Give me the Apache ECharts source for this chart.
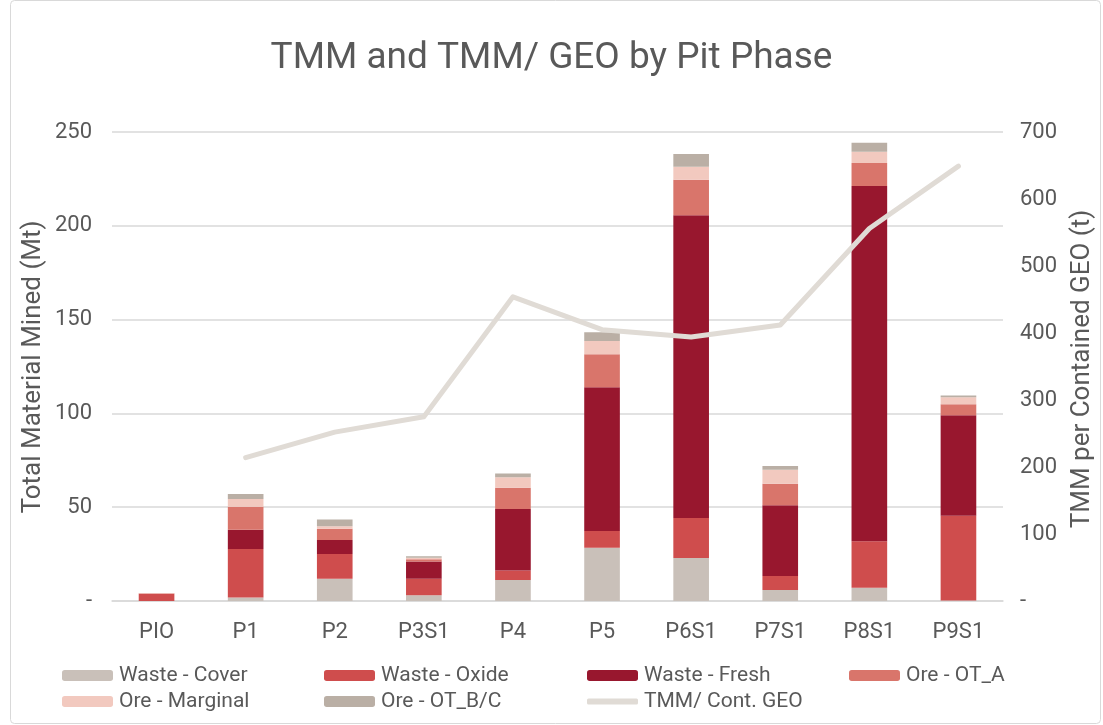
<!DOCTYPE html>
<html>
<head>
<meta charset="utf-8">
<script src="https://cdn.jsdelivr.net/npm/echarts@6/dist/echarts.min.js"></script>
<style>
html,body{margin:0;padding:0;background:#fff;}
#chart{width:1103px;height:725px;}
</style>
</head>
<body>
<div id="chart"></div>
<script>
var categories = ['PIO','P1','P2','P3S1','P4','P5','P6S1','P7S1','P8S1','P9S1'];
var wasteCover    = [0,   1.8, 11.9, 3.0, 11.2, 28.4, 22.9,  5.9,   7.1,  0.3];
var wasteOxide    = [4.0, 25.9,13.1, 8.9,  5.0,  8.9, 21.3,  7.4,  24.7, 45.2];
var wasteFresh    = [0,   10.3, 7.5, 9.1, 32.8, 76.6,161.4, 37.7, 189.4, 53.5];
var oreOTA        = [0,   12.3, 6.0, 1.2, 11.4, 17.6, 19.0, 11.5,  12.3,  5.9];
var oreMarginal   = [0.3,  4.1, 1.3, 0.9,  5.5,  7.1,  6.9,  7.5,   6.0,  3.7];
var oreOTBC       = [0,    2.6, 3.7, 0.7,  2.1,  4.6,  6.8,  2.0,   4.8,  1.0];
var tmmPerGeo     = [null, 214, 252, 275, 454, 405, 394, 412, 556, 649];
var leftTicks = [0,50,100,150,200,250];
var rightTicks = [0,100,200,300,400,500,600,700];

var TXT = '#595959';
var FONT = 'Roboto';
var chart = echarts.init(document.getElementById('chart'), null, {renderer:'canvas'});

function barSeries(name, data, color){
  return {name:name, type:'bar', stack:'tmm', data:data, barWidth:'40%',
    itemStyle:{color:color}, emphasis:{disabled:true}};
}
function lg(name, left, top, extra){
  var o = {show:true, left:left, top:top, padding:0, itemWidth:51, itemHeight:11, itemGap:0,
    selectedMode:false, textStyle:{color:TXT, fontSize:21, fontFamily:FONT, padding:[0,0,0,1]},
    data:[name]};
  if (extra) for (var k in extra) o[k]=extra[k];
  return o;
}

var option = {
  backgroundColor:'#fff',
  animation:false,
  textStyle:{fontFamily:FONT},
  title:{text:'TMM and TMM/ GEO by Pit Phase', left:'center', top:40, padding:0,
    textStyle:{color:TXT, fontSize:37, fontWeight:'normal', fontFamily:FONT}},
  grid:{left:112, right:100, top:132, bottom:124},
  legend:[
    lg('Waste - Cover', 62, 665),
    lg('Waste - Oxide', 324, 665),
    lg('Waste - Fresh', 587, 665),
    lg('Ore - OT_A', 849, 665),
    lg('Ore - Marginal', 62, 691),
    lg('Ore - OT_B/C', 324, 691),
    lg('TMM/ Cont. GEO', 587, 691, {itemHeight:6, data:[{name:'TMM/ Cont. GEO', icon:'roundRect'}]})
  ],
  xAxis:{type:'category', data:categories,
    axisLine:{lineStyle:{color:'#d9d9d9', width:1.5}}, axisTick:{show:false},
    axisLabel:{color:TXT, fontSize:22, fontFamily:FONT, margin:20}},
  yAxis:[
    {type:'value', min:0, max:250, interval:50,
      axisLine:{show:false}, axisTick:{show:false},
      splitLine:{lineStyle:{color:'#d9d9d9', width:1.5}},
      axisLabel:{color:TXT, fontSize:22, fontFamily:FONT, margin:20,
        formatter:function(v){return leftTicks.indexOf(v)===0?'-':String(v);}}},
    {type:'value', min:0, max:700, interval:100,
      axisLine:{show:false}, axisTick:{show:false}, splitLine:{show:false},
      axisLabel:{color:TXT, fontSize:22, fontFamily:FONT, margin:17,
        formatter:function(v){return rightTicks.indexOf(v)===0?'-':String(v);}}}
  ],
  graphic:[
    {type:'rect', shape:{x:10.5, y:0.5, width:1090, height:723, r:4}, style:{fill:null, stroke:'#d9d9d9', lineWidth:1}, silent:true},
    {type:'text', x:33, y:367, rotation:Math.PI/2, style:{text:'Total Material Mined (Mt)', fill:TXT, fontSize:26, fontFamily:FONT, align:'center', verticalAlign:'middle'}},
    {type:'text', x:1082, y:369, rotation:Math.PI/2, style:{text:'TMM per Contained GEO (t)', fill:TXT, fontSize:26, fontFamily:FONT, align:'center', verticalAlign:'middle'}}
  ],
  series:[
    barSeries('Waste - Cover', wasteCover, '#C9C0B9'),
    barSeries('Waste - Oxide', wasteOxide, '#CF4D4D'),
    barSeries('Waste - Fresh', wasteFresh, '#98172E'),
    barSeries('Ore - OT_A', oreOTA, '#D9756B'),
    barSeries('Ore - Marginal', oreMarginal, '#F2C9BF'),
    barSeries('Ore - OT_B/C', oreOTBC, '#BAAFA5'),
    {name:'TMM/ Cont. GEO', type:'line', yAxisIndex:1, data:tmmPerGeo, symbol:'none',
      connectNulls:false, itemStyle:{color:'#E0DBD5'},
      lineStyle:{color:'#E0DBD5', width:5, cap:'round', join:'round'}, emphasis:{disabled:true}, z:5}
  ]
};
chart.setOption(option);
</script>
</body>
</html>
